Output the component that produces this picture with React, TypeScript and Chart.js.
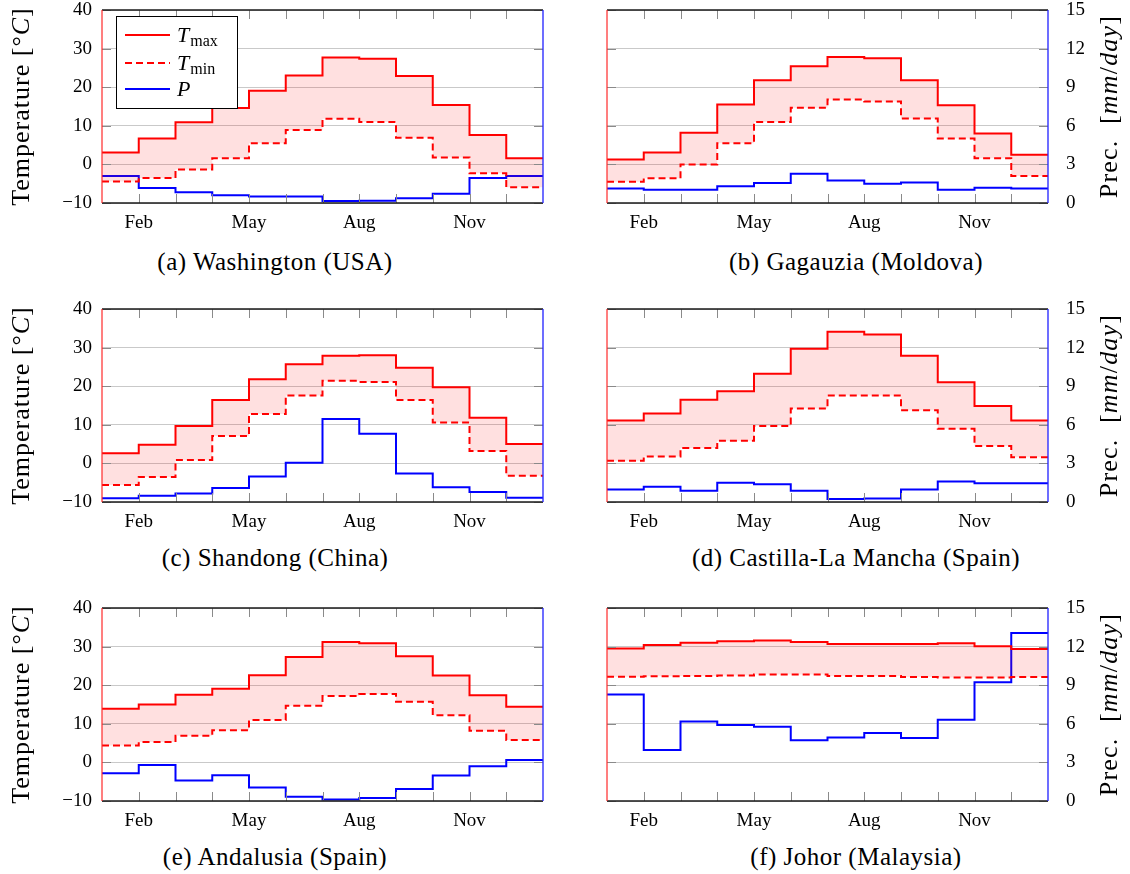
import React, { useEffect, useRef } from "react";
import { Chart, registerables } from "chart.js";

Chart.register(...registerables);

// ---- Data -----------------------------------------------------------------

const MONTHS = ["Jan", "Feb", "Mar", "Apr", "May", "Jun", "Jul", "Aug", "Sep", "Oct", "Nov", "Dec"];
const LABELLED_MONTHS = [2, 5, 8, 11];

const washingtonTmax = [3.1, 6.7, 10.9, 14.6, 19.1, 23.0, 27.7, 27.4, 22.9, 15.4, 7.6, 1.6];
const washingtonTmin = [-4.4, -3.5, -1.3, 1.6, 5.5, 8.9, 11.8, 11.0, 6.9, 1.8, -2.3, -5.9];
const washingtonPrec = [2.1, 1.17, 0.84, 0.6, 0.51, 0.51, 0.15, 0.18, 0.36, 0.72, 1.95, 2.1];

const gagauziaTmax = [1.3, 3.1, 8.2, 15.5, 21.8, 25.4, 27.8, 27.5, 21.8, 15.3, 8.0, 2.5];
const gagauziaTmin = [-4.5, -3.6, 0.0, 5.5, 11.0, 14.7, 16.8, 16.3, 11.9, 6.7, 1.6, -3.0];
const gagauziaPrec = [1.13, 1.03, 1.03, 1.31, 1.55, 2.27, 1.75, 1.49, 1.6, 1.03, 1.19, 1.13];

const shandongTmax = [2.6, 4.8, 9.7, 16.4, 21.8, 25.7, 27.9, 28.0, 24.8, 19.7, 11.8, 5.0];
const shandongTmin = [-5.6, -3.5, 0.9, 7.1, 12.8, 17.6, 21.4, 21.1, 16.4, 10.6, 3.2, -3.2];
const shandongPrec = [0.3, 0.48, 0.66, 1.08, 1.98, 3.06, 6.45, 5.31, 2.22, 1.14, 0.78, 0.33];

const castillaTmax = [11.1, 12.9, 16.5, 18.7, 23.2, 29.7, 34.1, 33.4, 27.9, 21.0, 14.9, 11.1];
const castillaTmin = [0.7, 1.8, 4.0, 5.9, 9.7, 14.2, 17.6, 17.6, 13.8, 9.0, 4.5, 1.6];
const castillaPrec = [0.98, 1.19, 0.88, 1.5, 1.37, 0.88, 0.23, 0.28, 0.98, 1.6, 1.45, 1.45];

const andalusiaTmax = [13.9, 15.0, 17.5, 19.1, 22.6, 27.3, 31.2, 30.9, 27.5, 22.5, 17.4, 14.4];
const andalusiaTmin = [4.4, 5.3, 6.9, 8.3, 11.0, 14.7, 17.2, 17.7, 15.7, 12.2, 8.2, 5.8];
const andalusiaPrec = [2.16, 2.79, 1.59, 2.01, 1.05, 0.33, 0.12, 0.24, 0.93, 1.98, 2.7, 3.18];

const johorTmax = [29.5, 30.4, 31.0, 31.4, 31.55, 31.2, 30.7, 30.7, 30.7, 30.9, 30.1, 29.4];
const johorTmin = [22.2, 22.3, 22.4, 22.5, 22.8, 22.8, 22.4, 22.4, 22.1, 22.0, 22.0, 22.1];
const johorPrec = [8.28, 3.96, 6.18, 5.9, 5.77, 4.73, 4.94, 5.28, 4.89, 6.31, 9.23, 13.06];

const CAPTIONS = [
  "(a) Washington (USA)",
  "(b) Gagauzia (Moldova)",
  "(c) Shandong (China)",
  "(d) Castilla-La Mancha (Spain)",
  "(e) Andalusia (Spain)",
  "(f) Johor (Malaysia)",
];

const TEMP_MIN = -10;
const TEMP_MAX = 40;
const TEMP_STEP = 10;
const PREC_MIN = 0;
const PREC_MAX = 15;
const PREC_STEP = 3;

// ---- Styling / layout -------------------------------------------------------

const FONT = "'Liberation Serif', 'Times New Roman', serif";
const RED = "#ff0000";
const BLUE = "#0000ff";
const FILL = "rgba(255, 0, 0, 0.12)";
const TMIN_DASH = [7, 4];
const TICK_LEN = 9;

const COLUMNS = [
  { canvasLeft: 0, canvasWidth: 560, plotLeft: 102, plotRight: 543, captionX: 275, side: "left" },
  { canvasLeft: 560, canvasWidth: 570, plotLeft: 607, plotRight: 1048, captionX: 856, side: "right" },
];
const ROWS = [
  { plotTop: 10, plotBottom: 203, captionY: 262 },
  { plotTop: 309, plotBottom: 502, captionY: 558 },
  { plotTop: 608, plotBottom: 801, captionY: 857 },
];
const CANVAS_TOP_PAD = 10;
const X_AXIS_HEIGHT = 37;

type Run = { text: string; italic?: boolean };

const TEMP_TITLE: Run[] = [
  { text: "Temperature [°" },
  { text: "C", italic: true },
  { text: "]" },
];
const PREC_TITLE: Run[] = [
  { text: "Prec.  [" },
  { text: "mm", italic: true },
  { text: "/" },
  { text: "day", italic: true },
  { text: "]" },
];

// month m holds its value from x = m to x = m + 1
function toSteps(values: number[]) {
  const pts = values.map((v, i) => ({ x: i + 1, y: v }));
  pts.push({ x: values.length + 1, y: values[values.length - 1] });
  return pts;
}

function fmtTick(v: number) {
  return v < 0 ? "\u2212" + Math.abs(v) : String(v);
}

function drawRotatedRuns(ctx: CanvasRenderingContext2D, runs: Run[], cx: number, cy: number, size: number, spacing: number) {
  ctx.save();
  ctx.translate(cx, cy);
  ctx.rotate(-Math.PI / 2);
  ctx.fillStyle = "#000";
  ctx.textBaseline = "middle";
  ctx.textAlign = "left";
  (ctx as any).letterSpacing = spacing + "px";
  const fontFor = (r: Run) => `${r.italic ? "italic " : ""}${size}px ${FONT}`;
  let total = 0;
  for (const r of runs) {
    ctx.font = fontFor(r);
    total += ctx.measureText(r.text).width;
  }
  let x = -total / 2;
  for (const r of runs) {
    ctx.font = fontFor(r);
    ctx.fillText(r.text, x, 0);
    x += ctx.measureText(r.text).width;
  }
  ctx.restore();
}

type PanelProps = {
  tmax: number[];
  tmin: number[];
  prec: number[];
  col: (typeof COLUMNS)[number];
  row: (typeof ROWS)[number];
  legend: boolean;
};

function ClimatePanel({ tmax, tmin, prec, col, row, legend }: PanelProps) {
  const ref = useRef<HTMLCanvasElement | null>(null);
  const width = col.canvasWidth;
  const height = row.plotBottom - row.plotTop + CANVAS_TOP_PAD + X_AXIS_HEIGHT;
  const isLeft = col.side === "left";

  useEffect(() => {
    if (!ref.current) return;
    const leftW = col.plotLeft - col.canvasLeft;
    const rightW = col.canvasLeft + col.canvasWidth - col.plotRight;

    const framePlugin = {
      id: "frame",
      afterDatasetsDraw(chart: any) {
        const { ctx, chartArea, scales } = chart;
        const { left, right, top, bottom } = chartArea;
        const xs = scales.x;
        const ys = scales.y;
        ctx.save();
        // inner tick marks
        ctx.strokeStyle = "#8a8a8a";
        ctx.lineWidth = 1;
        ctx.beginPath();
        for (let m = 2; m <= MONTHS.length; m++) {
          const px = Math.round(xs.getPixelForValue(m)) + 0.5;
          ctx.moveTo(px, top);
          ctx.lineTo(px, top + TICK_LEN);
          ctx.moveTo(px, bottom);
          ctx.lineTo(px, bottom - TICK_LEN);
        }
        for (const t of ys.ticks) {
          const py = Math.round(ys.getPixelForValue(t.value)) + 0.5;
          ctx.moveTo(left, py);
          ctx.lineTo(left + TICK_LEN, py);
          ctx.moveTo(right, py);
          ctx.lineTo(right - TICK_LEN, py);
        }
        ctx.stroke();
        // top and bottom axis lines
        ctx.strokeStyle = "#1a1a1a";
        ctx.lineWidth = 1.3;
        ctx.beginPath();
        ctx.moveTo(left, top);
        ctx.lineTo(right, top);
        ctx.moveTo(left, bottom);
        ctx.lineTo(right, bottom);
        ctx.stroke();
        // temperature axis (left) and precipitation axis (right)
        ctx.lineWidth = 1.6;
        ctx.strokeStyle = "rgba(255, 40, 40, 0.75)";
        ctx.beginPath();
        ctx.moveTo(left, top);
        ctx.lineTo(left, bottom);
        ctx.stroke();
        ctx.strokeStyle = "rgba(40, 40, 255, 0.85)";
        ctx.beginPath();
        ctx.moveTo(right, top);
        ctx.lineTo(right, bottom);
        ctx.stroke();
        ctx.restore();
      },
      afterDraw(chart: any) {
        const { ctx, chartArea } = chart;
        const cy = (chartArea.top + chartArea.bottom) / 2;
        if (isLeft) {
          drawRotatedRuns(ctx, TEMP_TITLE, 22, cy, 26, 1);
        } else {
          drawRotatedRuns(ctx, PREC_TITLE, 1110 - col.canvasLeft, cy, 26, 1.2);
        }
        if (legend) {
          const bx = 116, by = 16, bw = 121, bh = 92;
          ctx.save();
          ctx.fillStyle = "#fff";
          ctx.fillRect(bx, by, bw, bh);
          ctx.strokeStyle = "#000";
          ctx.lineWidth = 1;
          ctx.strokeRect(bx + 0.5, by + 0.5, bw, bh);
          const items = chart.data.datasets.map((ds: any, i: number) => ({
            ds,
            lineY: [35, 63, 89][i],
          }));
          for (const { ds, lineY } of items) {
            ctx.strokeStyle = ds.borderColor;
            ctx.lineWidth = ds.borderWidth;
            ctx.setLineDash(ds.borderDash || []);
            ctx.beginPath();
            ctx.moveTo(125, lineY);
            ctx.lineTo(170, lineY);
            ctx.stroke();
            ctx.setLineDash([]);
            const [main, sub] = ds.label.split("_");
            ctx.fillStyle = "#000";
            ctx.textBaseline = "alphabetic";
            ctx.textAlign = "left";
            ctx.font = `italic 22px ${FONT}`;
            ctx.fillText(main, 177, lineY + 7);
            if (sub) {
              const w = ctx.measureText(main).width;
              ctx.font = `16px ${FONT}`;
              ctx.fillText(sub, 177 + w + 1, lineY + 11);
            }
          }
          ctx.restore();
        }
      },
    };

    const chart = new Chart(ref.current, {
      type: "line",
      data: {
        datasets: [
          {
            label: "T_max",
            data: toSteps(tmax),
            borderColor: RED,
            borderWidth: 2,
            stepped: "before",
            fill: "+1",
            backgroundColor: FILL,
            pointRadius: 0,
            yAxisID: "y",
          },
          {
            label: "T_min",
            data: toSteps(tmin),
            borderColor: RED,
            borderWidth: 2,
            borderDash: TMIN_DASH,
            stepped: "before",
            fill: false,
            pointRadius: 0,
            yAxisID: "y",
          },
          {
            label: "P",
            data: toSteps(prec),
            borderColor: BLUE,
            borderWidth: 2,
            stepped: "before",
            fill: false,
            pointRadius: 0,
            yAxisID: "y2",
          },
        ] as any,
      },
      options: {
        responsive: false,
        animation: false,
        events: [],
        layout: { padding: { top: CANVAS_TOP_PAD, left: 0, right: 0, bottom: 0 } },
        plugins: { legend: { display: false }, tooltip: { enabled: false }, title: { display: false } },
        scales: {
          x: {
            type: "linear",
            min: 1,
            max: MONTHS.length + 1,
            grid: { display: false },
            border: { display: false },
            afterBuildTicks: (s: any) => {
              s.ticks = LABELLED_MONTHS.map((v) => ({ value: v }));
            },
            afterFit: (s: any) => {
              s.height = X_AXIS_HEIGHT;
              s.paddingLeft = 0;
              s.paddingRight = 0;
            },
            ticks: {
              autoSkip: false,
              maxRotation: 0,
              padding: 1,
              color: "#000",
              font: { family: FONT, size: 19 },
              callback: (v: any) => MONTHS[Number(v) - 1],
            },
          },
          y: {
            type: "linear",
            position: "left",
            min: TEMP_MIN,
            max: TEMP_MAX,
            grid: { color: "#c9c9c9", lineWidth: 1, drawTicks: false },
            border: { display: false },
            afterFit: (s: any) => {
              s.width = leftW;
              s.paddingTop = 0;
              s.paddingBottom = 0;
            },
            ticks: {
              display: isLeft,
              stepSize: TEMP_STEP,
              padding: 10,
              color: "#000",
              font: { family: FONT, size: 19 },
              callback: (v: any) => fmtTick(Number(v)),
            },
          },
          y2: {
            type: "linear",
            position: "right",
            min: PREC_MIN,
            max: PREC_MAX,
            grid: { display: false, drawOnChartArea: false },
            border: { display: false },
            afterFit: (s: any) => {
              s.width = rightW;
              s.paddingTop = 0;
              s.paddingBottom = 0;
            },
            ticks: {
              display: !isLeft,
              stepSize: PREC_STEP,
              padding: 10,
              color: "#000",
              font: { family: FONT, size: 19 },
              callback: (v: any) => fmtTick(Number(v)),
            },
          },
        },
      } as any,
      plugins: [framePlugin],
    });
    return () => chart.destroy();
  }, [tmax, tmin, prec, col, row, legend, isLeft]);

  return (
    <canvas
      ref={ref}
      width={width}
      height={height}
      style={{
        position: "absolute",
        left: col.canvasLeft,
        top: row.plotTop - CANVAS_TOP_PAD,
        width,
        height,
      }}
    />
  );
}

const PANELS = [
  { tmax: washingtonTmax, tmin: washingtonTmin, prec: washingtonPrec, c: 0, r: 0 },
  { tmax: gagauziaTmax, tmin: gagauziaTmin, prec: gagauziaPrec, c: 1, r: 0 },
  { tmax: shandongTmax, tmin: shandongTmin, prec: shandongPrec, c: 0, r: 1 },
  { tmax: castillaTmax, tmin: castillaTmin, prec: castillaPrec, c: 1, r: 1 },
  { tmax: andalusiaTmax, tmin: andalusiaTmin, prec: andalusiaPrec, c: 0, r: 2 },
  { tmax: johorTmax, tmin: johorTmin, prec: johorPrec, c: 1, r: 2 },
];

export default function App() {
  return (
    <div
      style={{
        position: "absolute",
        left: 0,
        top: 0,
        width: 1130,
        height: 874,
        background: "#fff",
        overflow: "hidden",
      }}
    >
      {PANELS.map((p, i) => (
        <React.Fragment key={i}>
          <ClimatePanel
            tmax={p.tmax}
            tmin={p.tmin}
            prec={p.prec}
            col={COLUMNS[p.c]}
            row={ROWS[p.r]}
            legend={i === 0}
          />
          <div
            style={{
              position: "absolute",
              left: COLUMNS[p.c].captionX,
              top: ROWS[p.r].captionY - 14,
              transform: "translateX(-50%)",
              whiteSpace: "nowrap",
              fontFamily: FONT,
              fontSize: 25,
              lineHeight: "28px",
              letterSpacing: "0.5px",
              color: "#000",
            }}
          >
            {CAPTIONS[i]}
          </div>
        </React.Fragment>
      ))}
    </div>
  );
}
